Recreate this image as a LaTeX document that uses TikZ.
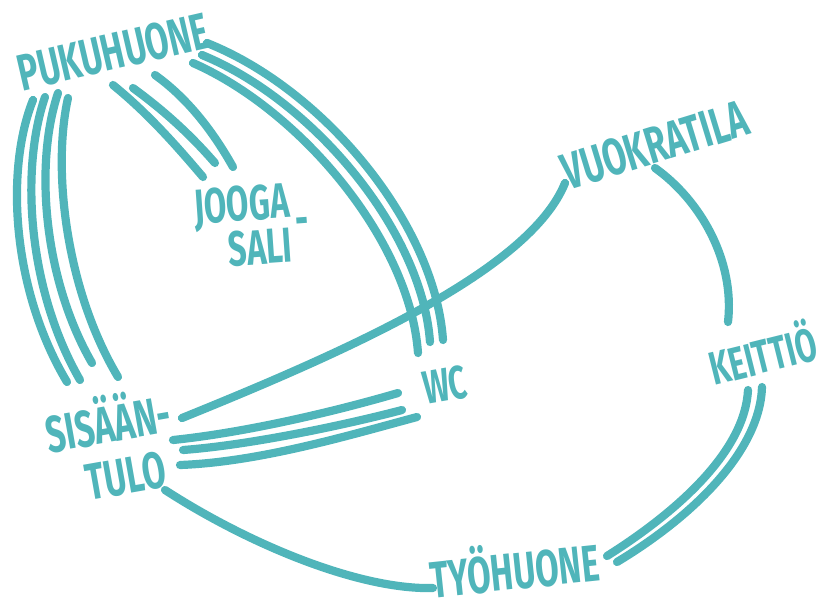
\documentclass[tikz,border=0pt]{standalone}
\usepackage{fontspec}
\setmainfont{Fira Sans}
\usepackage{tikz}
\definecolor{marker}{HTML}{50B5BA}

\begin{document}
\begin{tikzpicture}[
  x=0.03cm, y=-0.03cm,
  room/.style={text=marker, inner sep=0pt, align=right, xscale=0.66, transform shape, font=\bfseries\fontsize{44}{46}\selectfont},
  wire/.style={draw=marker, line width=7pt, line cap=round}
]
  \useasboundingbox (0,0) rectangle (823,611);

  \node[rotate=13, room] (puku) at (113,52) {PUKUHUONE};
  \node[rotate=4, room, font=\bfseries\fontsize{42}{38}\selectfont] (jooga) at (243,226) {JOOGA\\SALI\rlap{\smash{\raisebox{0.5em}{\,-}}}};
  \node[rotate=17, room] (vuokra) at (655,145) {VUOKRATILA};
  \node[rotate=14, room, font=\bfseries\fontsize{40}{44}\selectfont] (keittio) at (762,352) {KEITTIÖ};
  \node[rotate=10, room, font=\bfseries\fontsize{40}{44}\selectfont] (wc) at (445,385) {WC};
  \node[rotate=10, room] (sisaan) at (105,447) {SISÄÄN\rlap{-}\\TULO};
  \node[rotate=6, room] (tyo) at (514,566) {TYÖHUONE};

  % pukuhuone - sisaantulo
  \draw[wire] ([shift={(-80,48)}]puku.center) .. controls (5,170) and (12,290) .. ([shift={(-38,-65)}]sisaan.center);
  \draw[wire] ([shift={(-68,45)}]puku.center) .. controls (20,170) and (28,290) .. ([shift={(-25,-67)}]sisaan.center);
  \draw[wire] ([shift={(-55,41)}]puku.center) .. controls (34,165) and (44,280) .. ([shift={(-13,-84)}]sisaan.center);
  \draw[wire] ([shift={(-45,46)}]puku.center) .. controls (52,170) and (66,290) .. ([shift={(13,-70)}]sisaan.center);

  % pukuhuone - joogasali
  \draw[wire] ([shift={(0,33)}]puku.center) .. controls (150,115) and (180,150) .. ([shift={(-40,-49)}]jooga.center);
  \draw[wire] ([shift={(20,36)}]puku.center) .. controls (170,115) and (195,140) .. ([shift={(-28,-63)}]jooga.center);
  \draw[wire] ([shift={(42,23)}]puku.center) .. controls (190,100) and (215,135) .. ([shift={(-10,-59)}]jooga.center);

  % pukuhuone - wc
  \draw[wire] ([shift={(80,11)}]puku.center) .. controls (300,110) and (410,240) .. ([shift={(-27,-32)}]wc.center);
  \draw[wire] ([shift={(89,3)}]puku.center) .. controls (312,100) and (422,230) .. ([shift={(-15,-43)}]wc.center);
  \draw[wire] ([shift={(94,-9)}]puku.center) .. controls (325,90) and (435,225) .. ([shift={(-2,-45)}]wc.center);

  % sisaantulo - vuokratila
  \draw[wire] ([shift={(77,-29)}]sisaan.center) .. controls (350,350) and (530,270) .. ([shift={(-90,38)}]vuokra.center);

  % sisaantulo - wc
  \draw[wire] ([shift={(68,-7)}]sisaan.center) .. controls (250,432) and (340,410) .. ([shift={(-47,8)}]wc.center);
  \draw[wire] ([shift={(78,3)}]sisaan.center) .. controls (250,445) and (345,425) .. ([shift={(-43,25)}]wc.center);
  \draw[wire] ([shift={(75,18)}]sisaan.center) .. controls (260,462) and (350,435) .. ([shift={(-28,32)}]wc.center);

  % vuokratila - keittio
  \draw[wire] ([shift={(0,23)}]vuokra.center) .. controls (700,200) and (735,260) .. ([shift={(-34,-30)}]keittio.center);

  % keittio - tyohuone
  \draw[wire] ([shift={(-14,38)}]keittio.center) .. controls (745,450) and (680,510) .. ([shift={(93,-10)}]tyo.center);
  \draw[wire] ([shift={(0,35)}]keittio.center) .. controls (760,450) and (695,515) .. ([shift={(103,-4)}]tyo.center);

  % sisaantulo - tyohuone
  \draw[wire] ([shift={(60,43)}]sisaan.center) .. controls (250,545) and (360,590) .. ([shift={(-81,22)}]tyo.center);
\end{tikzpicture}
\end{document}
